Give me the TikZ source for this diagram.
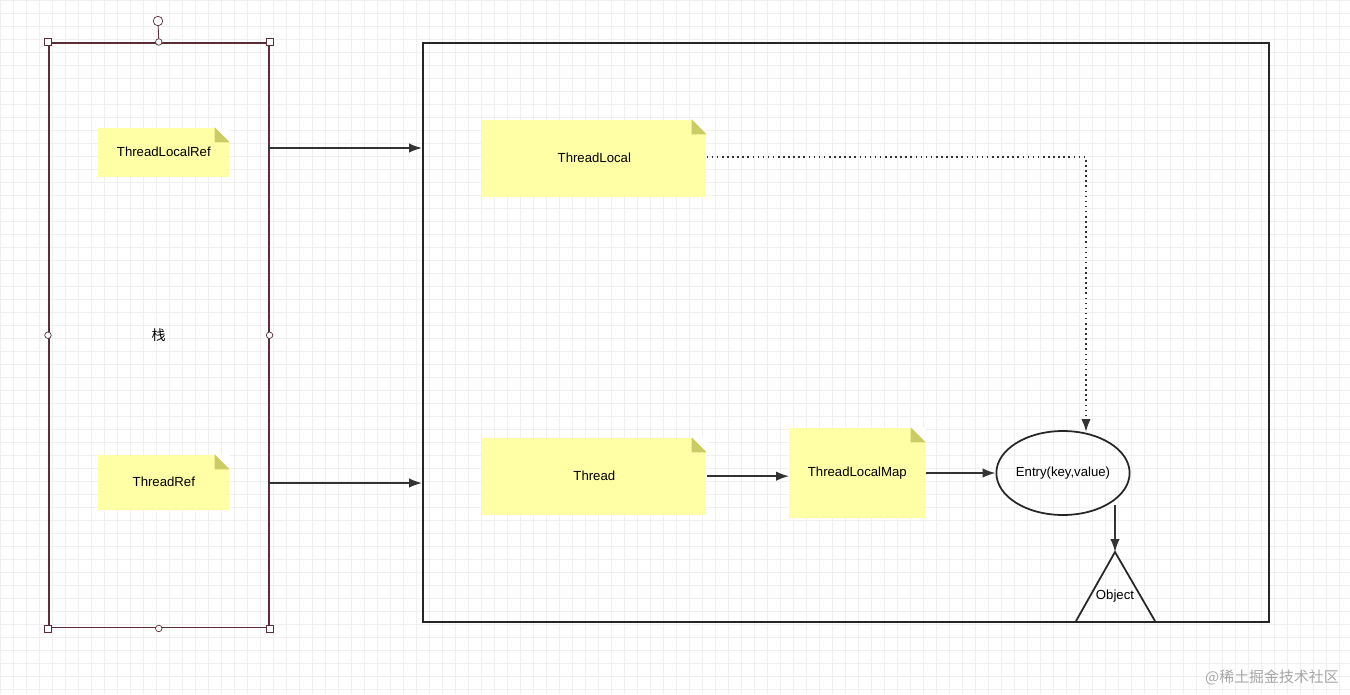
\documentclass[tikz,border=0pt]{standalone}
\usepackage{fontspec}
\setmainfont{Liberation Sans}
\newfontfamily\cjk{Noto Sans CJK SC}
\usetikzlibrary{positioning,shapes,arrows.meta,calc}
\definecolor{notefill}{HTML}{FFFFA6}
\definecolor{notefold}{HTML}{CCCC66}
\definecolor{selbox}{HTML}{5A2E36}
\tikzset{
  note/.style={fill=notefill, inner sep=0pt, font=\fontsize{7.5}{9}\selectfont},
  link/.style={-{Latex[length=2.6mm,width=1.9mm]}, line width=0.9pt, draw=black!80},
  handle/.style={draw=selbox, fill=white, line width=0.4pt, inner sep=0pt, minimum size=1.4mm},
}
\newcommand{\foldnote}[6]{% name, x, y, width, height, text
  \node[note, minimum width=#4cm, minimum height=#5cm, anchor=south west] (#1) at (#2,#3) {#6};
  \fill[white] ($(#1.north east)+(-15,0)$) -- (#1.north east) -- ($(#1.north east)+(0,15)$) -- cycle;
  \fill[notefold] ($(#1.north east)+(-15,0)$) -- ($(#1.north east)+(0,15)$) -- ($(#1.north east)+(-15,15)$) -- cycle;
}
\begin{document}
\begin{tikzpicture}[x=0.02cm,y=-0.02cm]
  \useasboundingbox (0,0) rectangle (1350,694);
  % grid
  \foreach \i in {0,13,...,1350} \draw[black!6, line width=0.3pt] (\i,0) -- (\i,694);
  \foreach \j in {0,13,...,694} \draw[black!6, line width=0.3pt] (0,\j) -- (1350,\j);
  % stack frame with selection handles
  \node[draw=selbox, line width=0.9pt, minimum width=4.4cm, minimum height=11.7cm, inner sep=0pt, anchor=north west,
        font=\cjk\fontsize{8}{9}\selectfont] (stack) at (48,42) {栈};
  \coordinate (rot) at (158,21);
  \draw[selbox, line width=0.5pt] (stack.north) -- (rot);
  \node[handle, circle, minimum size=1.9mm] at (rot) {};
  \foreach \a in {north west,north east,south west,south east}
    \node[handle] at (stack.\a) {};
  \foreach \a in {north,south,west,east}
    \node[handle, circle, minimum size=1.3mm] at (stack.\a) {};
  % heap
  \node[draw=black!85, line width=1pt, minimum width=16.92cm, minimum height=11.58cm, anchor=north west] (heap) at (422,42) {};
  % notes
  \foldnote{tlref}{98}{177}{2.62}{0.98}{ThreadLocalRef}
  \foldnote{tref}{98}{510}{2.62}{1.1}{ThreadRef}
  \foldnote{tlocal}{482}{197}{4.48}{1.54}{ThreadLocal}
  \foldnote{thread}{482}{515}{4.48}{1.54}{Thread}
  \foldnote{tlmap}{789}{518}{2.72}{1.8}{ThreadLocalMap}
  \node[draw=black!85, line width=1pt, ellipse, inner sep=0pt, minimum width=2.64cm, minimum height=1.68cm,
        font=\fontsize{7.5}{9}\selectfont] (entry) at (1063,473) {Entry(key,value)};
  \coordinate (tip) at (1115,552);
  \coordinate (bl) at (1076,621);
  \coordinate (br) at (1155,621);
  \draw[black!85, line width=1pt] (bl) -- (tip) -- (br);
  \node[font=\fontsize{7.5}{9}\selectfont] (object) at (1115,596) {Object};
  % connectors
  \coordinate (a1) at (268,148);
  \coordinate (a2) at (268,483);
  \draw[link] (a1) -- (a1 -| heap.west);
  \draw[link] (a2) -- (a2 -| heap.west);
  \draw[link] (thread.east) -- (tlmap.west |- thread.east);
  \draw[link] (tlmap.east |- entry.west) -- (entry.west);
  \coordinate (eb) at (1115,505);
  \draw[link] (eb) -- (tip);
  \coordinate (et) at (1086,432);
  \draw[link, dotted, line width=1.2pt] ($(tlocal.east)+(0,-1)$) -| (et);
  % watermark
  \node[black!35, font=\cjk\fontsize{8.5}{10}\selectfont, anchor=east] (wm) at (1345,677) {@稀土掘金技术社区};
\end{tikzpicture}
\end{document}
